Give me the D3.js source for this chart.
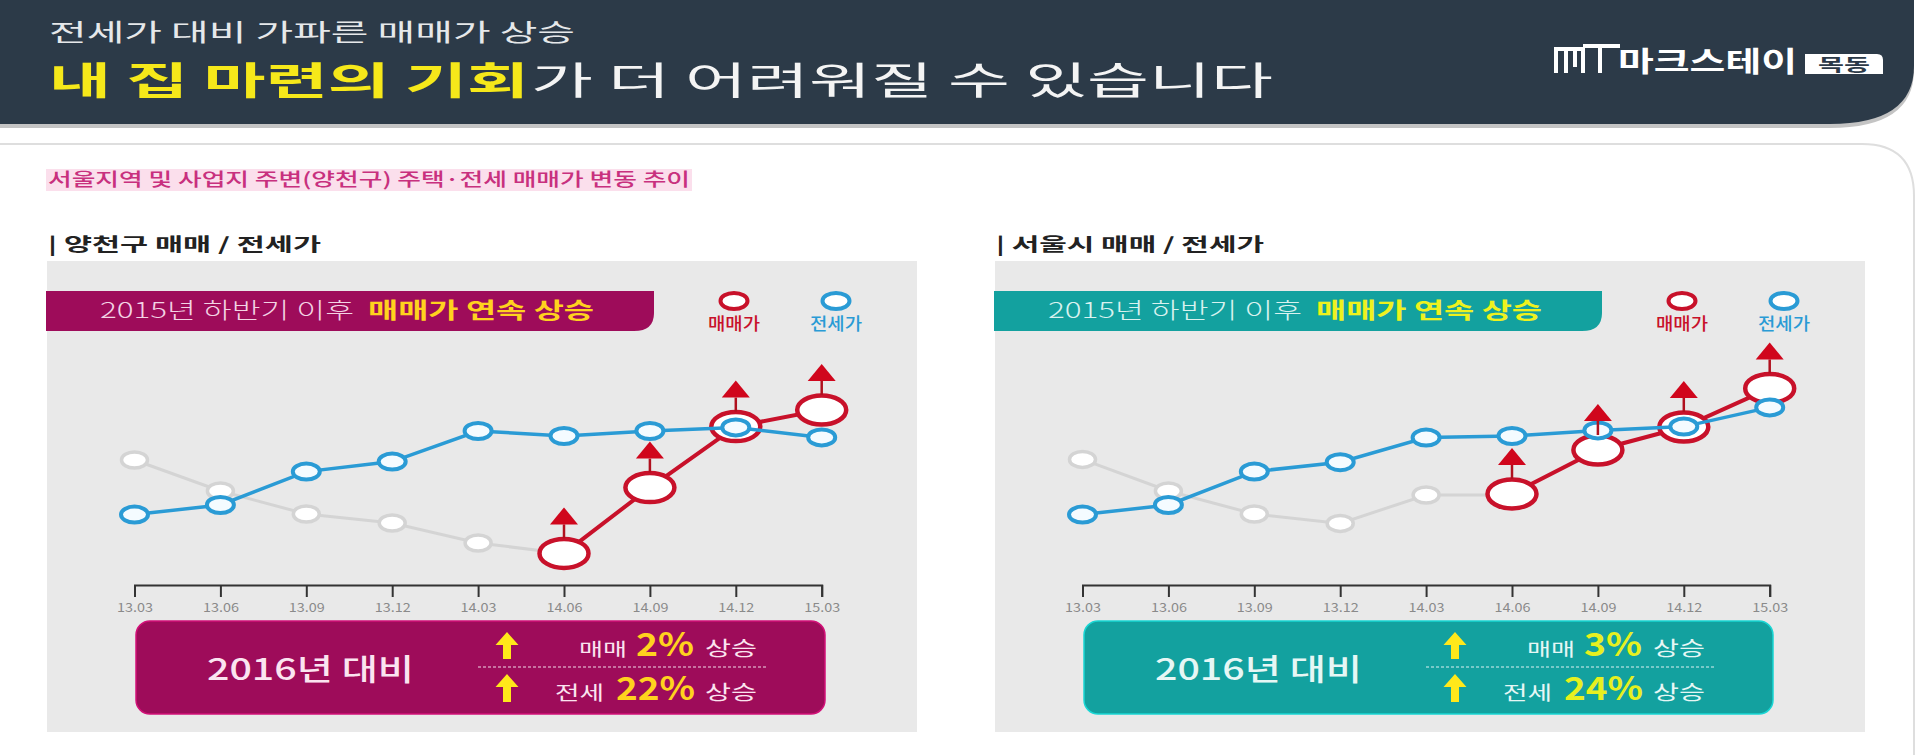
<!DOCTYPE html>
<html><head><meta charset="utf-8">
<script src="https://cdn.jsdelivr.net/npm/d3@7"></script>
<style>
html,body{margin:0;padding:0;background:#fff;}
svg{display:block;}
text{font-family:"Noto Sans CJK KR","Noto Sans",sans-serif;}
</style></head>
<body>
<svg id="chart" width="1920" height="755"></svg>
<script>
// ---------- data ----------
const categories = ['13.03','13.06','13.09','13.12','14.03','14.06','14.09','14.12','15.03'];
// index values (0–100 scale)
const yangcheonPast   = [62.5, 47, 35.5, 31, 21, 15.8];           // 13.03 – 14.06 (grey)
const yangcheonSale   = [15.8, 48.7, 79.2, 87.5];                 // 14.06 – 15.03 (매매가)
const yangcheonJeonse = [35.2, 40, 56.7, 61.7, 77, 74.5, 77, 78.8, 73.8]; // 전세가
const seoulPast       = [62.8, 47, 35.5, 30.8, 45, 45];
const seoulSale       = [45.5, 67.5, 79, 98.3];
const seoulJeonse     = [35.2, 40, 56.7, 61.4, 73.7, 74.5, 77.3, 79.2, 88.8];
const panelTitles  = ['| 양천구 매매 / 전세가', '| 서울시 매매 / 전세가'];
const saleChange   = ['2%', '3%'];
const jeonseChange = ['22%', '24%'];
const legendLabels = ['매매가', '전세가'];

// ---------- helpers ----------
const svg = d3.select('#chart');
function txt(g, o){
  const t = g.append('text')
    .attr('x', o.x).attr('y', o.y)
    .attr('font-size', o.size)
    .attr('font-weight', o.weight || 400)
    .attr('fill', o.fill)
    .attr('text-anchor', o.anchor || 'start')
    .text(o.text);
  if (o.len) t.attr('textLength', o.len).attr('lengthAdjust', 'spacingAndGlyphs');
  return t;
}

// ---------- header ----------
svg.append('path')
  .attr('d','M0,0 H1914 V70 Q1914,128 1830,128 H0 Z')
  .attr('fill','#c4c4c4');
svg.append('path')
  .attr('d','M0,0 H1914 V66 Q1914,124 1830,124 H0 Z')
  .attr('fill','#2c3a48');
// card outline
svg.append('path')
  .attr('d','M0,144 H1862 Q1914,144 1914,196 V755')
  .attr('fill','none').attr('stroke','#dedede').attr('stroke-width',2);

txt(svg,{x:49,y:41,text:'전세가 대비 가파른 매매가 상승',size:24,fill:'#e6e8ea',len:526});
txt(svg,{x:49,y:94,text:'내 집 마련의 기회',size:38,weight:700,fill:'#f6e81a',len:480});
txt(svg,{x:531,y:94,text:'가 더 어려워질 수 있습니다',size:38,weight:400,fill:'#f4f4f4',len:742});

// logo
const logo = svg.append('g').attr('fill','none').attr('stroke','#fff').attr('stroke-width',4);
logo.append('path').attr('d','M1556,73 V49 H1583 V73 M1566,49 V73 M1575,49 V67');
logo.append('path').attr('d','M1583,46 H1620 M1600,46 V73');
txt(svg,{x:1618,y:72,text:'마크스테이',size:28,weight:700,fill:'#fff',len:179});
svg.append('path').attr('d','M1805,54 H1877 Q1883,54 1883,60 V74 H1805 Z').attr('fill','#fff');
txt(svg,{x:1844,y:71,text:'목동',size:17,weight:700,fill:'#2c3a48',anchor:'middle',len:52});

// subtitle
svg.append('rect').attr('x',46).attr('y',169).attr('width',646).attr('height',22).attr('fill','#fbdfec');
txt(svg,{x:48,y:186,text:'서울지역 및 사업지 주변(양천구) 주택·전세 매매가 변동 추이',size:18,weight:500,fill:'#c8307e',len:642});

// ---------- panels ----------
const panels = [
  {dx:0,   title:panelTitles[0], titleLen:273, past:yangcheonPast, sale:yangcheonSale, jeonse:yangcheonJeonse,
   main:'#9e0c5a', bannerText:'#f3d3e4', hi:'#ffd21e', pct:'#ffd21e', boxText:'#fbe4f0',
   sale_pct:saleChange[0], jeonse_pct:jeonseChange[0]},
  {dx:948, title:panelTitles[1], titleLen:268, past:seoulPast, sale:seoulSale, jeonse:seoulJeonse,
   main:'#13a19f', bannerText:'#d9f2ef', hi:'#eef21e', pct:'#e6f020', boxText:'#e6f7f5',
   sale_pct:saleChange[1], jeonse_pct:jeonseChange[1]}
];

const y = d3.scaleLinear().domain([0,100]).range([585,385]);
const RED = '#c8112a', BLUE = '#2a9bd5', GREY = '#d4d4d4';

panels.forEach(p => {
  const g = svg.append('g').attr('transform',`translate(${p.dx},0)`);
  txt(g,{x:48,y:251,text:p.title,size:18,weight:700,fill:'#222',len:p.titleLen});
  g.append('rect').attr('x',47).attr('y',261).attr('width',870).attr('height',471).attr('fill','#e9e9e9');

  // banner
  g.append('path').attr('d','M46,291 H654 V313 Q654,331 634,331 H46 Z').attr('fill',p.main);
  txt(g,{x:100,y:318,text:'2015년 하반기 이후',size:22,weight:300,fill:p.bannerText,len:254});
  txt(g,{x:368,y:318,text:'매매가 연속 상승',size:22,weight:700,fill:p.hi,len:226});

  // legend
  const lx = [734, 836];
  [RED, BLUE].forEach((c,i) => {
    g.append('ellipse').attr('cx',lx[i]).attr('cy',301).attr('rx',13.5).attr('ry',8)
      .attr('fill','#fff').attr('stroke',c).attr('stroke-width',4);
    txt(g,{x:lx[i],y:330,text:legendLabels[i],size:17,weight:500,fill:c,anchor:'middle',len:52});
  });

  const x = d3.scalePoint().domain(categories).range([134.5, 821.7]);

  // axis
  const ax = g.append('g').attr('transform','translate(0,585)')
    .call(d3.axisBottom(x).tickSize(12).tickSizeOuter(12).tickPadding(6));
  ax.selectAll('path,line').attr('stroke','#333').attr('stroke-width',2);
  ax.selectAll('text').attr('font-size',12).attr('fill','#8a8a8a')
    .attr('font-family','"Noto Sans","Noto Sans CJK KR",sans-serif')
    .attr('textLength',36).attr('lengthAdjust','spacingAndGlyphs');

  const pastCats = categories.slice(0, p.past.length);
  const saleCats = categories.slice(categories.length - p.sale.length);
  const line = d3.line().x(d => x(d[0])).y(d => y(d[1]));

  // grey past line
  const pastPts = pastCats.map((c,i) => [c, p.past[i]]);
  g.append('path').attr('d', line(pastPts)).attr('fill','none').attr('stroke',GREY).attr('stroke-width',3);
  g.selectAll('.gdot').data(pastPts).join('ellipse')
    .attr('cx',d=>x(d[0])).attr('cy',d=>y(d[1])).attr('rx',13).attr('ry',8)
    .attr('fill','#fff').attr('stroke',GREY).attr('stroke-width',3.5);

  // red sale line
  const salePts = saleCats.map((c,i) => [c, p.sale[i]]);
  g.append('path').attr('d', line(salePts)).attr('fill','none').attr('stroke',RED).attr('stroke-width',4);
  g.selectAll('.rdot').data(salePts).join('ellipse')
    .attr('cx',d=>x(d[0])).attr('cy',d=>y(d[1])).attr('rx',24.5).attr('ry',14.5)
    .attr('fill','#fff').attr('stroke',RED).attr('stroke-width',4.5);

  // blue jeonse line
  const jPts = categories.map((c,i) => [c, p.jeonse[i]]);
  g.append('path').attr('d', line(jPts)).attr('fill','none').attr('stroke',BLUE).attr('stroke-width',3.5);
  g.selectAll('.bdot').data(jPts).join('ellipse')
    .attr('cx',d=>x(d[0])).attr('cy',d=>y(d[1])).attr('rx',13.5).attr('ry',8)
    .attr('fill','#f4fbff').attr('stroke',BLUE).attr('stroke-width',4);

  // red up arrows
  salePts.forEach(d => {
    const cx = x(d[0]), cy = y(d[1]);
    g.append('line').attr('x1',cx).attr('x2',cx).attr('y1',cy-29).attr('y2',cy-15)
      .attr('stroke','#b0101e').attr('stroke-width',2.5);
    g.append('path').attr('d',`M${cx},${cy-46} L${cx+14},${cy-29} L${cx-14},${cy-29} Z`).attr('fill','#d0061c');
  });

  // summary box
  g.append('rect').attr('x',136).attr('y',621).attr('width',689).attr('height',93).attr('rx',14)
    .attr('fill',p.main).attr('stroke', d3.color(p.main).brighter(0.8)).attr('stroke-width',1.5);
  txt(g,{x:207,y:680,text:'2016년 대비',size:30,weight:500,fill:p.boxText,len:207});
  g.append('line').attr('x1',478).attr('x2',767).attr('y1',667).attr('y2',667)
    .attr('stroke','#ffffff').attr('stroke-opacity',0.85).attr('stroke-width',1).attr('stroke-dasharray','3,2');
  [[632,659],[674,702]].forEach(([t,b]) => {
    const cx = 507;
    g.append('path').attr('d',`M${cx},${t} L${cx+11.5},${t+13} L${cx+4},${t+13} L${cx+4},${b} L${cx-4},${b} L${cx-4},${t+13} L${cx-11.5},${t+13} Z`)
      .attr('fill','#ffe81a');
  });
  txt(g,{x:579,y:656,text:'매매',size:18,weight:400,fill:p.boxText,len:48});
  txt(g,{x:636,y:656,text:p.sale_pct,size:32,weight:700,fill:p.pct,len:58});
  txt(g,{x:705,y:656,text:'상승',size:20,weight:400,fill:p.boxText,len:52});
  txt(g,{x:555,y:700,text:'전세',size:19,weight:400,fill:p.boxText,len:49});
  txt(g,{x:616,y:700,text:p.jeonse_pct,size:32,weight:700,fill:p.pct,len:79});
  txt(g,{x:705,y:700,text:'상승',size:20,weight:400,fill:p.boxText,len:52});
});
</script>
</body></html>
